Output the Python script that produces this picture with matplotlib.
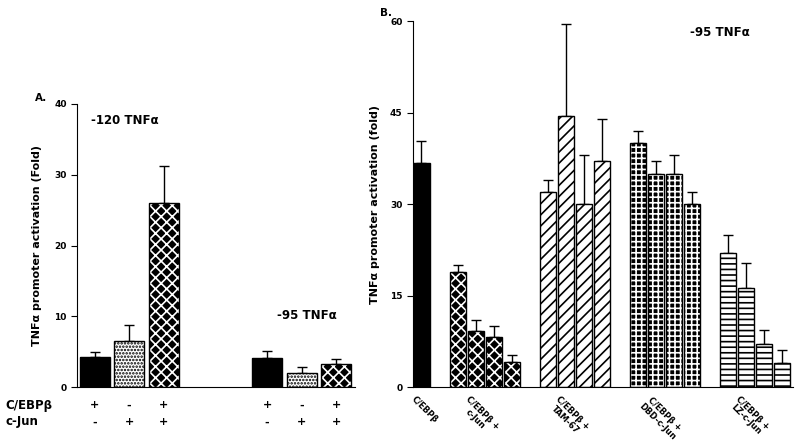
import numpy as np
import matplotlib
matplotlib.use('Agg')
import matplotlib.pyplot as plt

plt.rcParams['font.family'] = ['DejaVu Sans']
plt.rcParams['font.weight'] = 'bold'
plt.rcParams['hatch.linewidth'] = 1.2

# panel A
a_values_120 = [4.3, 6.5, 26.0]
a_errtop_120 = [5.0, 8.8, 31.3]
a_values_95 = [4.1, 2.0, 3.2]
a_errtop_95 = [5.1, 2.8, 4.0]
cebp_signs = ['+', '-', '+', '+', '-', '+']
cjun_signs = ['-', '+', '+', '-', '+', '+']

# panel B
b_groups = ['C/EBPβ', 'C/EBPβ +\nc-Jun', 'C/EBPβ +\nTAM-67',
            'C/EBPβ +\nDBD-c-Jun', 'C/EBPβ +\nLZ-c-Jun']
b_values = [[36.8],
            [18.8, 9.2, 8.2, 4.1],
            [32.0, 44.5, 30.0, 37.0],
            [40.0, 35.0, 35.0, 30.0],
            [22.0, 16.3, 7.1, 4.0]]
b_errtop = [[40.4],
            [20.0, 11.0, 10.0, 5.2],
            [34.0, 59.5, 38.0, 44.0],
            [42.0, 37.0, 38.0, 32.0],
            [25.0, 20.3, 9.4, 6.0]]

# fill, hatch colour, hatch
styles = {
    'solid': ('black', 'black', None),
    'dots': ('white', 'black', '.....'),
    'weave': ('black', 'white', 'xxx'),
    'diag': ('white', 'black', '///'),
    'grid': ('black', 'white', '+++'),
    'brick': ('white', 'black', '---'),
}


def draw_bars(ax, x, vals, errs, style, width):
    face, hcol, hatch = styles[style]
    ax.bar(x, vals, width, color=face, edgecolor=hcol, hatch=hatch, linewidth=0, zorder=2)
    ax.bar(x, vals, width, facecolor='none', edgecolor='black', linewidth=1.0, zorder=3)
    up = np.array(errs) - np.array(vals)
    ax.errorbar(x, vals, yerr=[np.zeros(len(up)), up], fmt='none', ecolor='black',
                elinewidth=1, capsize=3.5, capthick=1, zorder=1)


def style_axes(ax):
    ax.spines['top'].set_visible(False)
    ax.spines['right'].set_visible(False)
    ax.tick_params(axis='x', bottom=False, labelbottom=False)
    ax.tick_params(axis='y', direction='out', length=4, labelsize=6.5)
    for lbl in ax.get_yticklabels():
        lbl.set_fontweight('bold')


fig = plt.figure(figsize=(8, 4.45), dpi=100)

# ---- A ----
axA = fig.add_axes([0.09625, 0.1303, 0.3475, 0.636])
w = 0.87
for i, st in enumerate(['solid', 'dots', 'weave']):
    draw_bars(axA, [i], [a_values_120[i]], [a_errtop_120[i]], st, w)
    draw_bars(axA, [i + 5], [a_values_95[i]], [a_errtop_95[i]], st, w)
axA.set_xlim(-0.51, 7.55)
axA.set_ylim(0, 40)
axA.set_yticks([0, 10, 20, 30, 40])
style_axes(axA)
axA.set_ylabel('TNFα promoter activation (Fold)', fontsize=8, fontweight='bold', labelpad=9)
axA.text(0.05, 0.93, '-120 TNFα', transform=axA.transAxes, fontsize=8.5, fontweight='bold')
axA.text(0.72, 0.24, '-95 TNFα', transform=axA.transAxes, fontsize=8.5, fontweight='bold')
fig.text(35 / 800, 1 - 98 / 445, 'A.', fontsize=7.5, fontweight='bold', va='center')
xs = [0, 1, 2, 5, 6, 7]
for x, s1, s2 in zip(xs, cebp_signs, cjun_signs):
    axA.text(x, -0.065, s1, transform=axA.get_xaxis_transform(), ha='center', va='center',
             fontsize=8, fontweight='bold')
    axA.text(x, -0.125, s2, transform=axA.get_xaxis_transform(), ha='center', va='center',
             fontsize=8, fontweight='bold')
fig.text(5 / 800, 1 - 405 / 445, 'C/EBPβ', fontsize=8.5, fontweight='bold', va='center')
fig.text(5 / 800, 1 - 422 / 445, 'c-Jun', fontsize=8.5, fontweight='bold', va='center')

# ---- B ----
axB = fig.add_axes([0.51625, 0.1303, 0.475, 0.8225])
wb = 0.89
b_styles = ['solid', 'weave', 'diag', 'grid', 'brick']
starts = [0, 2, 7, 12, 17]
for g, (vals, errs, st, x0) in enumerate(zip(b_values, b_errtop, b_styles, starts)):
    x = [x0 + k for k in range(len(vals))]
    draw_bars(axB, x, vals, errs, st, wb)
    xl = x0 - 0.3 if g == 0 else x0 + 0.7
    axB.text(xl, -0.02, b_groups[g], transform=axB.get_xaxis_transform(), rotation=-45,
             rotation_mode='anchor', ha='left', va='top', multialignment='center',
             fontsize=6, fontweight='bold', linespacing=1.1)
axB.set_xlim(-0.47, 20.6)
axB.set_ylim(0, 60)
axB.set_yticks([0, 15, 30, 45, 60])
style_axes(axB)
axB.set_ylabel('TNFα promoter activation (fold)', fontsize=8, fontweight='bold', labelpad=7)
axB.text(0.73, 0.96, '-95 TNFα', transform=axB.transAxes, fontsize=8.5, fontweight='bold')
fig.text(380 / 800, 1 - 13 / 445, 'B.', fontsize=7.5, fontweight='bold', va='center')

fig.savefig('out.png', dpi=100)
